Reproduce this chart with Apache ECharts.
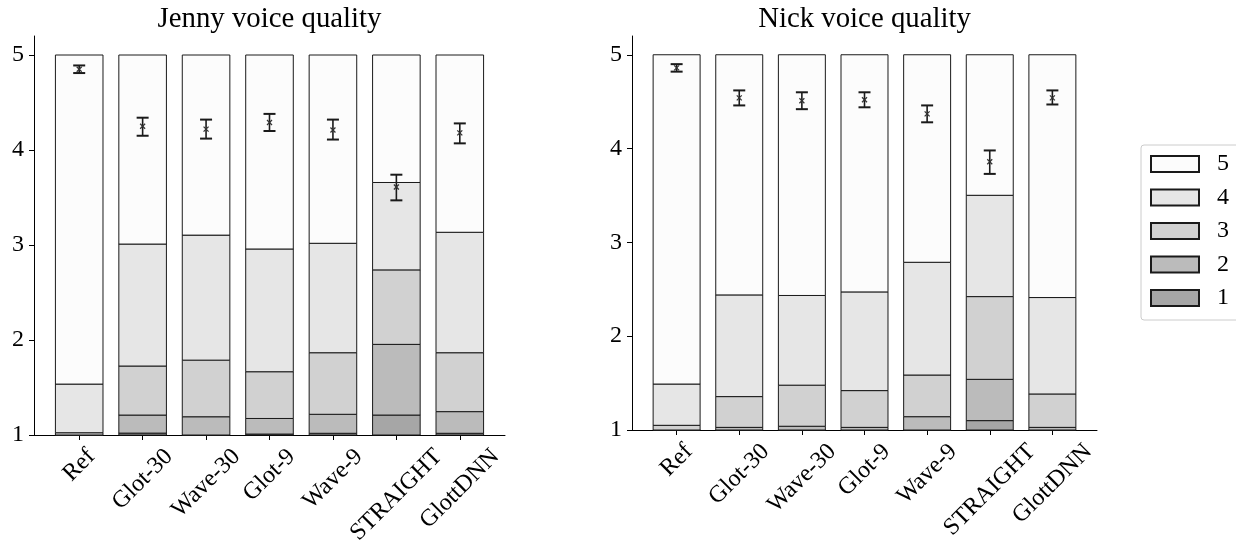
<!DOCTYPE html>
<html><head><meta charset="utf-8">
<script src="https://cdn.jsdelivr.net/npm/echarts@6/dist/echarts.min.js"></script>
<style>html,body{margin:0;padding:0;background:#fff}#c{width:1236px;height:540px}</style>
</head><body><div id="c"></div>
<script>
const categories = ['Ref','Glot-30','Wave-30','Glot-9','Wave-9','STRAIGHT','GlottDNN'];
const levels = ['1','2','3','4','5'];
const yTicks = [1,2,3,4,5];

// Jenny: percentage of ratings per level
const jenny1 = [0, 0.5, 0, 0.25, 0.45, 5.25, 0.45];
const jenny2 = [0, 4.75, 4.8, 4.1, 5.0, 18.6, 5.7];
const jenny3 = [0.6, 12.9, 14.9, 12.3, 16.2, 19.6, 15.5];
const jenny4 = [12.8, 32.1, 32.9, 32.3, 28.8, 23.0, 31.7];
const jenny5 = [86.6, 49.75, 47.4, 51.05, 49.55, 33.55, 46.65];
const jennyMean = [4.85, 4.25, 4.22, 4.29, 4.21, 3.61, 4.18];
const jennyLow  = [4.81, 4.15, 4.12, 4.20, 4.11, 3.47, 4.07];
const jennyHigh = [4.89, 4.34, 4.32, 4.38, 4.32, 3.74, 4.28];

// Nick
const nick1 = [0, 0, 0, 0, 0, 2.5, 0];
const nick2 = [0, 0.7, 1.0, 0.7, 3.55, 11.0, 0.7];
const nick3 = [1.25, 8.2, 10.95, 9.8, 11.1, 22.05, 8.9];
const nick4 = [11.0, 27.1, 23.9, 26.3, 30.05, 27.0, 25.7];
const nick5 = [87.75, 64.0, 64.15, 63.2, 55.3, 37.45, 64.7];
const nickMean = [4.86, 4.54, 4.51, 4.52, 4.37, 3.86, 4.54];
const nickLow  = [4.82, 4.46, 4.42, 4.44, 4.28, 3.73, 4.47];
const nickHigh = [4.90, 4.62, 4.60, 4.60, 4.46, 3.98, 4.62];

const levelColors = ['#a6a6a6','#bbbbbb','#d1d1d1','#e6e6e6','#fcfcfc'];
const FONT = "'Liberation Serif','Times New Roman',serif";
const LABEL_SIZE = 24;
const BAR_W = 0.75;

// rich styles so each rotated label's bounding box is centred on its tick
const measureCtx = document.createElement('canvas').getContext('2d');
measureCtx.font = LABEL_SIZE + "px 'Liberation Serif'";
const richLabels = {};
categories.forEach((c, i) => {
  const w = measureCtx.measureText(c).width;
  richLabels['c' + i] = {fontFamily:FONT, fontSize:LABEL_SIZE, color:'#000',
    padding:[0.5 * w, 0.5 * w, 0, 0]};
});

function segRender(params, api) {
  const x = api.value(0), b = api.value(1), t = api.value(2);
  const p0 = api.coord([x - BAR_W/2, t]);
  const p1 = api.coord([x + BAR_W/2, b]);
  return {type:'rect', shape:{x:p0[0], y:p0[1], width:p1[0]-p0[0], height:p1[1]-p0[1]},
          style: api.style({stroke:'#1a1a1a', lineWidth:1})};
}
function errRender(params, api) {
  const x = api.value(0);
  const pm = api.coord([x, api.value(1)]);
  const pl = api.coord([x, api.value(2)]);
  const ph = api.coord([x, api.value(3)]);
  const cw = 6, m = 2.5;
  const st = {stroke:'#1a1a1a', lineWidth:2};
  return {type:'group', children:[
    {type:'line', shape:{x1:pm[0], y1:pl[1], x2:pm[0], y2:ph[1]}, style:{stroke:'#1a1a1a', lineWidth:1.6}},
    {type:'line', shape:{x1:pm[0]-cw, y1:pl[1], x2:pm[0]+cw, y2:pl[1]}, style:st},
    {type:'line', shape:{x1:pm[0]-cw, y1:ph[1], x2:pm[0]+cw, y2:ph[1]}, style:st},
    {type:'line', shape:{x1:pm[0]-m, y1:pm[1]-m, x2:pm[0]+m, y2:pm[1]+m}, style:{stroke:'#333', lineWidth:1.3}},
    {type:'line', shape:{x1:pm[0]-m, y1:pm[1]+m, x2:pm[0]+m, y2:pm[1]-m}, style:{stroke:'#333', lineWidth:1.3}}
  ]};
}

function buildSeries(levelArrays, mean, low, high, idx) {
  const out = [];
  const cum = categories.map(() => 0);
  levelArrays.forEach((arr, li) => {
    const data = categories.map((c, i) => {
      const b = 1 + 4 * cum[i] / 100;
      cum[i] += arr[i];
      const t = 1 + 4 * cum[i] / 100;
      return [i, b, t];
    });
    out.push({
      name: levels[li], type:'custom', xAxisIndex: idx, yAxisIndex: idx,
      renderItem: segRender, encode:{x:0, y:[1,2]}, data,
      itemStyle:{color: levelColors[li], borderColor:'#1a1a1a', borderWidth:1},
      z: 2
    });
  });
  out.push({
    name:'err'+idx, type:'custom', xAxisIndex: idx, yAxisIndex: idx,
    renderItem: errRender, encode:{x:0, y:[1,2,3]},
    data: categories.map((c, i) => [i, mean[i], low[i], high[i]]), z: 5, silent:true
  });
  return out;
}

function xAxisDef(idx) {
  return {
    type:'value', gridIndex: idx, min:-0.7125, max:6.7125,
    splitLine:{show:false},
    axisLine:{show:true, onZero:false, lineStyle:{color:'#000', width:1}},
    axisTick:{show:true, length:5, customValues:[0,1,2,3,4,5,6], lineStyle:{color:'#000'}},
    axisLabel:{customValues:[0,1,2,3,4,5,6], rotate:45, margin:18, align:'center', verticalAlign:'middle',
      fontFamily:FONT, fontSize:LABEL_SIZE, color:'#000',
      formatter: v => { const i = Math.round(v); return '{c' + i + '|' + categories[i] + '}'; },
      rich: richLabels}
  };
}
function yAxisDef(idx) {
  return {
    type:'value', gridIndex: idx, min:1, max:5.2,
    splitLine:{show:false},
    axisLine:{show:true, onZero:false, lineStyle:{color:'#000', width:1}},
    axisTick:{show:true, length:5, customValues:yTicks, lineStyle:{color:'#000'}},
    axisLabel:{customValues:yTicks, margin:10, fontFamily:FONT, fontSize:LABEL_SIZE, color:'#000'}
  };
}

const chart = echarts.init(document.getElementById('c'), null, {renderer:'canvas'});
chart.setOption({
  animation:false,
  backgroundColor:'#fff',
  title:[
    {text:'Jenny voice quality', left:269.5, top:5, textAlign:'center', padding:0,
     textStyle:{fontFamily:FONT, fontSize:28.8, fontWeight:'normal', color:'#000'}},
    {text:'Nick voice quality', left:864.5, top:5, textAlign:'center', padding:0,
     textStyle:{fontFamily:FONT, fontSize:28.8, fontWeight:'normal', color:'#000'}}
  ],
  legend:{
    data:['5','4','3','2','1'], orient:'vertical', left:1141, top:145,
    icon:'rect', itemWidth:48, itemHeight:16, itemGap:9.5,
    padding:[7, 14, 10, 9], borderColor:'#cccccc', borderWidth:1, borderRadius:3,
    textStyle:{fontFamily:FONT, fontSize:LABEL_SIZE, color:'#000', padding:[0,0,0,13]},
    selectedMode:false
  },
  grid:[
    {left:34, top:36, width:471, height:399, outerBoundsMode:'none', containLabel:false},
    {left:632, top:36, width:465, height:394, outerBoundsMode:'none', containLabel:false}
  ],
  xAxis:[xAxisDef(0), xAxisDef(1)],
  yAxis:[yAxisDef(0), yAxisDef(1)],
  series:[
    ...buildSeries([jenny1,jenny2,jenny3,jenny4,jenny5], jennyMean, jennyLow, jennyHigh, 0),
    ...buildSeries([nick1,nick2,nick3,nick4,nick5], nickMean, nickLow, nickHigh, 1)
  ]
});
</script></body></html>
